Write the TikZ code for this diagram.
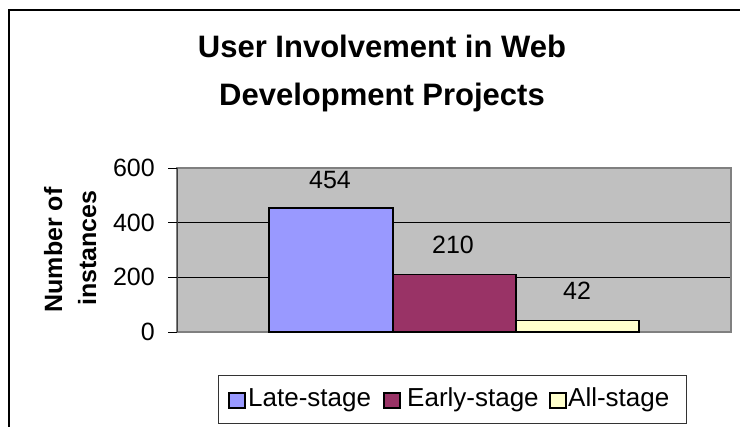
\documentclass[tikz,border=0pt]{standalone}
\usepackage{fontspec}
\setmainfont{Liberation Sans}
\definecolor{plotbg}{HTML}{C0C0C0}
\definecolor{plotedge}{HTML}{808080}
\definecolor{late}{HTML}{9999FF}
\definecolor{early}{HTML}{993366}
\definecolor{allst}{HTML}{FFFFCC}
\tikzset{
  titletext/.style={font=\bfseries\fontsize{31}{36}\selectfont, anchor=base, inner sep=0pt},
  axistitle/.style={font=\bfseries\fontsize{25}{30}\selectfont, anchor=base, rotate=90, inner sep=0pt},
  ticklabel/.style={font=\fontsize{25}{30}\selectfont, anchor=east, inner sep=0pt},
  datalabel/.style={font=\fontsize{25}{30}\selectfont, inner sep=0pt},
  legendtext/.style={font=\fontsize{26}{30}\selectfont, anchor=west, inner sep=0pt},
  bar/.style={draw=black, line width=1.5pt},
  swatch/.style={draw=black, line width=1.5pt},
  gridline/.style={draw=black, line width=0.8pt},
}
\begin{document}
\begin{tikzpicture}[x=1pt,y=-1pt]
\useasboundingbox (0,0) rectangle (740,427);
% outer frame (cropped)
\draw[line width=1.2pt] (9,430) -- (9,10) -- (745,10);
% titles
\node[titletext] (t1) at (382,57.5) {User Involvement in Web};
\node[titletext] (t2) at (382,106) {Development Projects};
% plot area
\fill[plotbg] (177,168) rectangle (731,332);
\draw[gridline] (177,222.7) -- (731,222.7);
\draw[gridline] (177,277.3) -- (731,277.3);
\draw[plotedge, line width=1.5pt] (177,168) rectangle (731,332);
% axis + ticks
\draw[black!75, line width=1pt] (177,168) -- (177,332);
\foreach \yy in {168,222.7,277.3,332} \draw[black, line width=0.8pt] (168,\yy) -- (177,\yy);
\node[ticklabel] (l600) at (155,168) {600};
\node[ticklabel] (l400) at (155,222.7) {400};
\node[ticklabel] (l200) at (155,277.3) {200};
\node[ticklabel] (l0) at (155,332) {0};
% axis title
\node[axistitle] (ya) at (62,250) {Number of};
\node[axistitle] (yb) at (96,248) {instances};
% bars
\filldraw[bar, fill=late] (269,332) rectangle (393,207.9);
\filldraw[bar, fill=early] (393,332) rectangle (516,274.6);
\filldraw[bar, fill=allst] (516,332) rectangle (639,320.5);
\node[datalabel] (v1) at (330,180) {454};
\node[datalabel] (v2) at (453,245) {210};
\node[datalabel] (v3) at (577,291) {42};
% legend
\draw[black!80, line width=1pt, fill=white] (218,376) rectangle (686,424);
\filldraw[swatch, fill=late] (229,393) rectangle (245,408);
\node[legendtext] (g1) at (248,400) {Late-stage};
\filldraw[swatch, fill=early] (384,393) rectangle (400,408);
\node[legendtext] (g2) at (407,400) {Early-stage};
\filldraw[swatch, fill=allst] (550,393) rectangle (566,408);
\node[legendtext] (g3) at (568,400) {All-stage};
\end{tikzpicture}
\end{document}
